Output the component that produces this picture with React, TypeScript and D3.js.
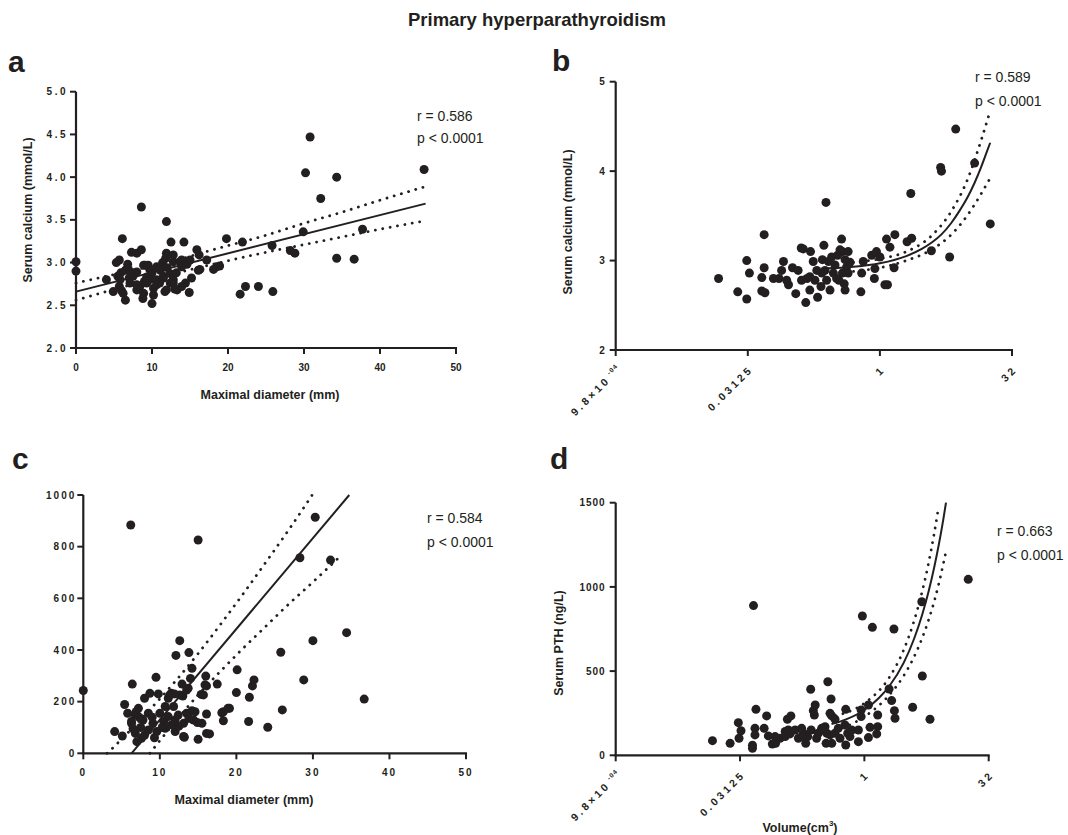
import React from "react";
import * as d3 from "d3";

const INK = "#231f20";
const FONT = "'Liberation Sans', Arial, Helvetica, sans-serif";

type Pt = [number, number];

// a: maximal diameter (mm) vs serum calcium (mmol/L)
const calciumByDiameter: Pt[] = [
  [0, 3.01], [0, 2.9], [4.0, 2.8], [4.9, 2.66], [5.3, 3.0], [5.5, 2.84], [5.7, 3.03], [5.7, 2.72],
  [5.8, 2.8], [5.9, 2.88], [6.0, 2.67], [6.1, 3.28], [6.2, 2.64], [6.5, 2.56], [6.5, 2.91], [6.8, 2.98],
  [6.9, 2.92], [7.0, 2.82], [7.1, 2.76], [7.3, 3.12], [7.5, 2.84], [7.6, 2.88], [8.0, 3.11], [8.0, 2.89],
  [8.0, 2.74], [8.0, 2.68], [8.4, 2.72], [8.6, 3.15], [8.6, 3.65], [8.8, 2.58], [8.9, 2.64], [8.9, 2.97],
  [9.0, 2.78], [9.1, 2.97], [9.3, 2.76], [9.3, 2.83], [9.5, 2.97], [9.7, 2.8], [9.7, 2.92], [10.0, 2.88],
  [10.0, 2.52], [10.2, 2.62], [10.2, 2.7], [10.6, 2.95], [10.6, 2.8], [10.6, 2.74], [11.0, 2.76], [11.1, 2.91],
  [11.4, 3.0], [11.5, 2.82], [11.5, 2.84], [11.7, 2.66], [11.8, 3.05], [11.9, 3.48], [11.9, 3.11], [11.9, 2.68],
  [12.0, 2.94], [12.4, 2.87], [12.4, 2.76], [12.5, 3.24], [12.8, 3.09], [12.8, 3.01], [12.8, 2.8], [12.8, 2.76],
  [13.0, 2.69], [13.2, 2.88], [13.3, 2.68], [13.7, 3.01], [13.9, 3.03], [13.9, 2.95], [13.9, 2.72], [14.2, 3.24],
  [14.4, 2.76], [14.6, 2.98], [14.9, 2.65], [15.0, 3.03], [15.2, 2.82], [15.9, 3.15], [16.1, 2.91], [16.2, 3.09],
  [16.3, 2.92], [17.2, 3.03], [18.1, 2.92], [18.5, 2.95], [18.9, 2.96], [19.8, 3.28], [21.6, 2.63], [21.9, 3.24],
  [22.3, 2.72], [24.0, 2.72], [25.8, 3.2], [25.9, 2.66], [28.2, 3.14], [28.8, 3.11], [29.9, 3.36], [30.2, 4.05],
  [30.8, 4.47], [32.2, 3.75], [34.3, 4.0], [34.3, 3.05], [36.6, 3.04], [37.7, 3.39], [45.8, 4.09],
];
const fitA: Pt[] = [[0, 2.66], [46, 3.69]];
const upperA: Pt[] = [[0, 2.76], [6, 2.88], [12, 3.0], [18, 3.15], [25, 3.32], [30, 3.46], [35, 3.59], [40, 3.73], [46, 3.89]];
const lowerA: Pt[] = [[0, 2.56], [6, 2.71], [12, 2.85], [18, 2.98], [25, 3.12], [30, 3.21], [35, 3.3], [40, 3.39], [46, 3.49]];

// b: volume (cm3) vs serum calcium (mmol/L)
const calciumByVolume: Pt[] = [
  [0.0145, 2.8], [0.024, 2.65], [0.0304, 2.57], [0.0304, 3.0], [0.0326, 2.86], [0.048, 3.29], [0.048, 2.92],
  [0.0451, 2.81], [0.0451, 2.66], [0.049, 2.64], [0.0612, 2.8], [0.0708, 2.8], [0.0797, 2.99], [0.0759, 2.89],
  [0.0866, 2.78], [0.0909, 2.73], [0.101, 2.92], [0.117, 2.89], [0.11, 2.63], [0.127, 3.14], [0.134, 3.13],
  [0.162, 3.1], [0.148, 2.8], [0.159, 2.67], [0.143, 2.53], [0.174, 2.99], [0.191, 2.89], [0.195, 2.59],
  [0.23, 3.17], [0.243, 3.65], [0.213, 2.71], [0.221, 3.01], [0.247, 2.78], [0.27, 2.67], [0.282, 3.04],
  [0.308, 2.95], [0.33, 3.06], [0.366, 3.24], [0.374, 3.1], [0.374, 2.86], [0.392, 2.74], [0.401, 2.67],
  [0.418, 2.93], [0.435, 3.1], [0.457, 2.98], [0.341, 2.78], [0.62, 2.86], [0.607, 2.65], [0.646, 2.99],
  [0.807, 3.06], [0.865, 2.8], [0.877, 2.91], [0.914, 3.1], [1.0, 3.04], [1.14, 2.73], [1.22, 2.73],
  [1.19, 3.24], [1.3, 3.15], [1.45, 2.92], [1.48, 3.29], [2.04, 3.21], [2.3, 3.25], [2.25, 3.75],
  [3.86, 3.11], [4.92, 4.04], [5.03, 4.0], [6.23, 3.04], [7.31, 4.47], [12.0, 4.09], [18.1, 3.41],
  [0.237, 2.89], [0.295, 2.86], [0.321, 2.8], [0.259, 2.99], [0.218, 2.86], [0.435, 2.86], [0.128, 2.78],
  [0.182, 2.78], [0.351, 3.12], [0.401, 3.01], [0.159, 2.82],
];
const fitB: Pt[] = [
  [0.23, 2.91], [0.5, 2.93], [1, 2.97], [2, 3.05], [3, 3.13], [4, 3.21], [5, 3.29],
  [6.5, 3.42], [8, 3.55], [10, 3.71], [12, 3.87], [14.3, 4.05], [16, 4.18], [18.1, 4.32],
];
const upperB: Pt[] = [[0.5, 2.98], [1, 3.02], [2, 3.1], [4, 3.29], [6.5, 3.55], [10, 3.91], [14.3, 4.35], [18, 4.67]];
const lowerB: Pt[] = [[0.5, 2.88], [1, 2.92], [2, 3.0], [4, 3.13], [6.5, 3.29], [10, 3.51], [14.3, 3.75], [18, 3.92]];

// c: maximal diameter (mm) vs serum PTH (ng/L)
const pthByDiameter: Pt[] = [
  [0, 243], [4.1, 84], [5.1, 67], [5.4, 189], [5.8, 155], [6.2, 884], [6.3, 123], [6.3, 116], [6.4, 268],
  [6.8, 148], [6.8, 77], [6.9, 161], [7.0, 45], [7.2, 174], [7.6, 58], [7.8, 129], [8.0, 213], [8.5, 155],
  [8.5, 90], [8.7, 232], [9.1, 116], [9.5, 294], [9.6, 84], [9.8, 230], [10.0, 155], [10.5, 123], [10.7, 97],
  [10.7, 181], [11.1, 142], [11.1, 213], [11.3, 226], [11.5, 232], [11.8, 181], [11.9, 230], [12.0, 84],
  [12.0, 129], [12.1, 379], [12.4, 148], [12.6, 436], [12.6, 226], [12.9, 268], [13.0, 222], [13.1, 116],
  [13.1, 65], [13.2, 62], [13.5, 245], [13.5, 155], [13.7, 252], [13.8, 390], [14.0, 290], [14.2, 329],
  [14.2, 165], [14.4, 129], [14.6, 161], [14.9, 119], [15.0, 826], [15.0, 54], [15.4, 228], [15.5, 116],
  [15.7, 226], [15.9, 265], [16.0, 299], [16.1, 261], [16.1, 152], [16.1, 77], [16.5, 75], [17.5, 268],
  [18.1, 157], [18.3, 126], [18.3, 161], [18.9, 174], [19.1, 174], [20.0, 235], [20.1, 323], [21.6, 123],
  [21.7, 217], [22.1, 261], [22.3, 284], [24.1, 101], [25.8, 391], [26.0, 168], [28.3, 757], [28.8, 284],
  [30.0, 436], [30.3, 914], [32.3, 748], [34.4, 467], [36.7, 210],
  [7.5, 100], [8.0, 70], [9.0, 140], [10.3, 100], [11.5, 110], [12.5, 105], [13.8, 135], [9.3, 60], [6.5, 95], [7.3, 140],
];
const fitC: Pt[] = [[6.3, 0], [34.75, 1000]];
const upperC: Pt[] = [
  [3.1, 0], [4, 25], [5, 55], [6, 85], [8, 147], [10, 211], [12, 278], [15, 386], [18, 502],
  [21, 622], [24, 746], [27, 872], [29.9, 1000],
];
const lowerC: Pt[] = [
  [8.7, 0], [10, 49], [12, 122], [15, 226], [18, 320], [21, 410], [24, 496], [27, 582], [30, 663], [33.75, 768],
];

// d: volume (cm3) vs serum PTH (ng/L)
const pthByVolume: Pt[] = [
  [0.0145, 87], [0.0237, 71], [0.0298, 194], [0.0321, 146], [0.0304, 101], [0.0455, 889], [0.0487, 273],
  [0.0442, 60], [0.0442, 42], [0.0474, 160], [0.0474, 121], [0.0612, 160], [0.0656, 234], [0.0688, 115],
  [0.0769, 67], [0.0842, 71], [0.0954, 101], [0.11, 141], [0.117, 214], [0.129, 234], [0.126, 127],
  [0.145, 150], [0.159, 101], [0.195, 71], [0.183, 131], [0.224, 392], [0.227, 150], [0.241, 265],
  [0.254, 299], [0.248, 239], [0.264, 101], [0.304, 150], [0.344, 71], [0.361, 437], [0.395, 334],
  [0.384, 249], [0.403, 234], [0.441, 214], [0.384, 121], [0.403, 71], [0.595, 273], [0.582, 180],
  [0.595, 61], [0.629, 131], [0.847, 81], [0.847, 150], [0.914, 269], [0.914, 230], [0.946, 827],
  [1.12, 105], [1.17, 166], [1.12, 299], [1.25, 760], [1.45, 239], [1.45, 170], [1.41, 127], [1.99, 394],
  [2.14, 325], [2.31, 265], [2.35, 220], [2.28, 750], [3.84, 285], [4.96, 912], [5.03, 471], [6.23, 214],
  [18.1, 1045],
  [0.11, 111], [0.174, 160], [0.206, 111], [0.277, 131], [0.304, 160], [0.351, 131], [0.441, 131],
  [0.483, 160], [0.507, 101], [0.669, 111], [0.702, 150], [0.174, 111], [0.12, 150], [0.334, 170], [0.083, 111],
];
const fitD: Pt[] = [
  [0.4, 185], [0.6, 213], [1, 269], [1.5, 340], [2, 410], [3, 550], [4, 692], [5, 833],
  [6, 974], [7, 1115], [8, 1256], [9, 1397], [9.73, 1500],
];
const upperD: Pt[] = [[0.45, 235], [1, 309], [2, 462], [3, 627], [4, 799], [5, 971], [6, 1143], [7, 1317], [7.9, 1472]];
const lowerD: Pt[] = [[0.45, 147], [1, 229], [2, 358], [3, 473], [4, 585], [5, 695], [6, 805], [7, 913], [8, 1023], [9, 1134], [9.73, 1210]];

// ticks
const calciumTicks = [2.0, 2.5, 3.0, 3.5, 4.0, 4.5, 5.0];
const calciumLogTicks = [2, 3, 4, 5];
const pthTicksC = [0, 200, 400, 600, 800, 1000];
const pthTicksD = [0, 500, 1000, 1500];
const diameterTicks = [0, 10, 20, 30, 40, 50];
const volumeTicks = [2 ** -10, 0.03125, 1, 32];
const volumeTickLabels = ["9.8\u00d710", "0.03125", "1", "32"];

type Box = { left: number; right: number; top: number; bottom: number };

interface PanelProps {
  box: Box;
  logX: boolean;
  yDomain: [number, number];
  yTicks: number[];
  yFmt: (v: number) => string;
  ySpacing: number;
  yLabelGap: number;
  xSpacing: number;
  points: Pt[];
  fit: Pt[];
  upper: Pt[];
  lower: Pt[];
  stats: [string, string];
  statsPos: [number, number, number];
}

function Panel(p: PanelProps) {
  const { box } = p;
  const x: any = p.logX
    ? d3.scaleLog().base(2).domain([2 ** -10, 32]).range([box.left, box.right])
    : d3.scaleLinear().domain([0, 50]).range([box.left, box.right]);
  const y = d3.scaleLinear().domain(p.yDomain).range([box.bottom, box.top]);
  const line = d3
    .line<Pt>()
    .x((d) => x(d[0]))
    .y((d) => y(d[1]))
    .curve(d3.curveMonotoneX);
  const xTicks = p.logX ? volumeTicks : diameterTicks;

  return (
    <g>
      <path d={line(p.upper) || ""} fill="none" stroke={INK} strokeWidth={2.8} strokeLinecap="round" strokeDasharray="0.1 7.4" />
      <path d={line(p.lower) || ""} fill="none" stroke={INK} strokeWidth={2.8} strokeLinecap="round" strokeDasharray="0.1 7.4" />
      <path d={line(p.fit) || ""} fill="none" stroke={INK} strokeWidth={2} />
      {p.points.map((d, i) => (
        <circle key={i} cx={x(d[0])} cy={y(d[1])} r={4.5} fill={INK} />
      ))}

      {/* axes */}
      <line x1={box.left} x2={box.left} y1={box.top} y2={box.bottom + 1} stroke={INK} strokeWidth={2.2} />
      <line x1={box.left - 1} x2={box.right + 1} y1={box.bottom} y2={box.bottom} stroke={INK} strokeWidth={2.2} />
      {p.yTicks.map((t) => (
        <g key={t}>
          <line x1={box.left - 6} x2={box.left} y1={y(t)} y2={y(t)} stroke={INK} strokeWidth={2} />
          <text
            x={box.left - p.yLabelGap}
            y={y(t) + 3.6}
            textAnchor="end"
            fontSize={10}
            fontWeight="bold"
            letterSpacing={p.ySpacing}
            fill={INK}
          >
            {p.yFmt(t)}
          </text>
        </g>
      ))}
      {xTicks.map((t, i) => (
        <g key={i}>
          <line x1={x(t)} x2={x(t)} y1={box.bottom} y2={box.bottom + 6} stroke={INK} strokeWidth={2} />
          {p.logX ? (
            <text
              transform={`translate(${x(t) + 6},${box.bottom + 20}) rotate(-45)`}
              textAnchor="end"
              fontSize={10.5}
              fontWeight="bold"
              letterSpacing={p.xSpacing}
              fill={INK}
            >
              {volumeTickLabels[i]}
              {i === 0 && (
                <tspan fontSize={6.5} dy={-5} letterSpacing={1}>
                  {" -04"}
                </tspan>
              )}
            </text>
          ) : (
            <text
              x={x(t)}
              y={box.bottom + 23}
              textAnchor="middle"
              fontSize={10}
              fontWeight="bold"
              letterSpacing={p.xSpacing}
              fill={INK}
            >
              {t}
            </text>
          )}
        </g>
      ))}

      <text x={p.statsPos[0]} y={p.statsPos[1]} fontSize={14} fill={INK}>
        {p.stats[0]}
      </text>
      <text x={p.statsPos[0]} y={p.statsPos[2]} fontSize={14} fill={INK}>
        {p.stats[1]}
      </text>
    </g>
  );
}

function YTitle({ x, y, text }: { x: number; y: number; text: string }) {
  return (
    <text transform={`translate(${x + 4.5},${y}) rotate(-90)`} textAnchor="middle" fontSize={12.5} fontWeight="bold" fill={INK}>
      {text}
    </text>
  );
}

function Letter({ x, y, text }: { x: number; y: number; text: string }) {
  return (
    <text x={x} y={y} fontSize={30} fontWeight="bold" fill={INK}>
      {text}
    </text>
  );
}

export default function App() {
  const f1 = d3.format(".1f");
  const f0 = d3.format("d");
  return (
    <svg
      width={1068}
      height={835}
      style={{ position: "absolute", left: 0, top: 0, background: "#fff" }}
      fontFamily={FONT}
    >
      <text x={537} y={26} textAnchor="middle" fontSize={18.5} fontWeight="bold" fill={INK}>
        Primary hyperparathyroidism
      </text>

      <Letter x={8} y={72} text="a" />
      <Letter x={552} y={71} text="b" />
      <Letter x={12} y={469} text="c" />
      <Letter x={550} y={469} text="d" />

      <Panel
        box={{ left: 76, right: 456, top: 91.7, bottom: 348 }}
        logX={false}
        yDomain={[2, 5]}
        yTicks={calciumTicks}
        yFmt={f1}
        ySpacing={2.5}
        yLabelGap={8}
        xSpacing={0}
        points={calciumByDiameter}
        fit={fitA}
        upper={upperA}
        lower={lowerA}
        stats={["r = 0.586", "p < 0.0001"]}
        statsPos={[417, 121, 143]}
      />
      <YTitle x={27} y={210} text="Serum calcium (mmol/L)" />
      <text x={270} y={399} textAnchor="middle" fontSize={12.5} fontWeight="bold" fill={INK}>
        Maximal diameter (mm)
      </text>

      <Panel
        box={{ left: 615.7, right: 1012, top: 81.7, bottom: 350 }}
        logX={true}
        yDomain={[2, 5]}
        yTicks={calciumLogTicks}
        yFmt={f0}
        ySpacing={1}
        yLabelGap={10}
        xSpacing={3}
        points={calciumByVolume}
        fit={fitB}
        upper={upperB}
        lower={lowerB}
        stats={["r = 0.589", "p < 0.0001"]}
        statsPos={[975, 82, 106]}
      />
      <YTitle x={567} y={222} text="Serum calcium (mmol/L)" />

      <Panel
        box={{ left: 83.3, right: 466, top: 495, bottom: 753.3 }}
        logX={false}
        yDomain={[0, 1000]}
        yTicks={pthTicksC}
        yFmt={f0}
        ySpacing={2}
        yLabelGap={7}
        xSpacing={2}
        points={pthByDiameter}
        fit={fitC}
        upper={upperC}
        lower={lowerC}
        stats={["r = 0.584", "p < 0.0001"]}
        statsPos={[427, 523, 547]}
      />
      <text x={244} y={804} textAnchor="middle" fontSize={12.5} fontWeight="bold" fill={INK}>
        Maximal diameter (mm)
      </text>

      <Panel
        box={{ left: 615.7, right: 988.7, top: 502.7, bottom: 755.3 }}
        logX={true}
        yDomain={[0, 1500]}
        yTicks={pthTicksD}
        yFmt={f0}
        ySpacing={1}
        yLabelGap={10}
        xSpacing={3}
        points={pthByVolume}
        fit={fitD}
        upper={upperD}
        lower={lowerD}
        stats={["r = 0.663", "p < 0.0001"]}
        statsPos={[997, 536, 560]}
      />
      <YTitle x={558} y={643} text="Serum PTH (ng/L)" />
      <text x={800} y={832} textAnchor="middle" fontSize={12.5} fontWeight="bold" fill={INK}>
        Volume(cm<tspan fontSize={8} dy={-6}>3</tspan>
        <tspan dy={6}>)</tspan>
      </text>
    </svg>
  );
}
